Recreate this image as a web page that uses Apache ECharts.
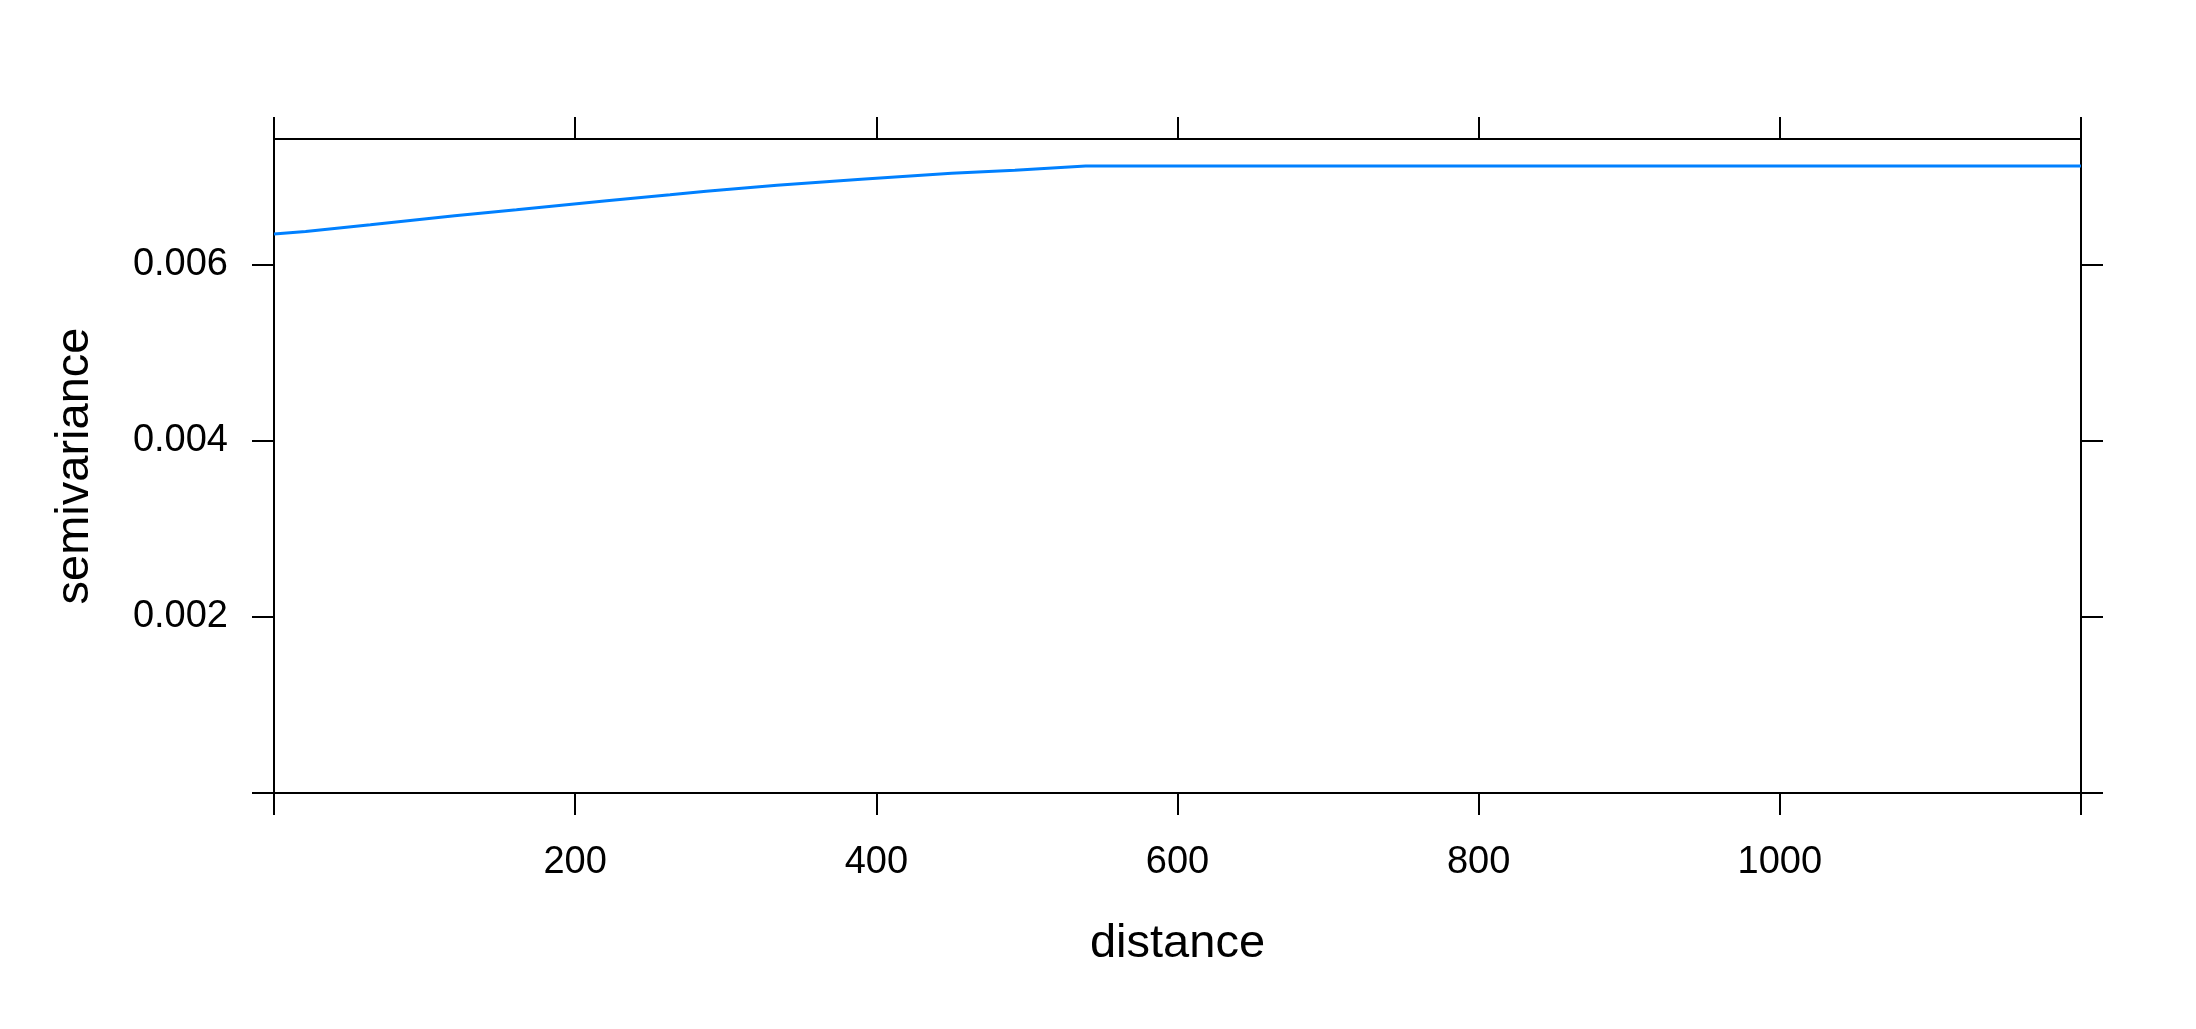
<!DOCTYPE html>
<html>
<head>
<meta charset="utf-8">
<title>semivariance</title>
<script src="https://cdn.jsdelivr.net/npm/echarts@6/dist/echarts.min.js"></script>
<style>
  html, body {
    margin: 0;
    padding: 0;
    background: #fff;
  }
  .variogramEcharts {
    width: 2196px;
    height: 1029px;
  }
</style>
</head>
<body>
<div class="variogramEcharts" id="variogramEcharts"></div>
<script>
// fitted model line
var distance = [0, 21, 64, 120, 161, 221, 263, 287, 334, 390, 450, 492, 539, 1200];
var semivariance = [0.006352, 0.00638, 0.006455, 0.006557, 0.006625, 0.006728, 0.006796,
  0.006836, 0.006904, 0.006974, 0.00704, 0.007075, 0.007122, 0.007122];

var xTicks = [0, 200, 400, 600, 800, 1000, 1200];
var xLabels = [200, 400, 600, 800, 1000];
var yTicks = [0, 0.002, 0.004, 0.006];
var yLabels = [0.002, 0.004, 0.006];

var xMin = 0, xMax = 1200;
var yMin = 0, yMax = 0.00743;

var myChart = echarts.init(document.getElementById("variogramEcharts"));

var lineData = distance.map(function (d, i) {
  return [d, semivariance[i]];
});

var axisLineStyle = { color: "#000", width: 2 };
var fontFamily = "'Liberation Sans', Arial, sans-serif";

let option = {
  backgroundColor: "#fff",
  animation: false,
  grid: {
    left: 274,
    right: 115,
    top: 139,
    bottom: 236
  },
  xAxis: [
    {
      type: "value",
      position: "bottom",
      min: xMin,
      max: xMax,
      name: "distance",
      nameLocation: "middle",
      nameGap: 128,
      nameTextStyle: { color: "#000", fontSize: 47, fontFamily: fontFamily },
      axisLine: { show: true, onZero: false, lineStyle: axisLineStyle },
      axisTick: { show: true, length: 22, customValues: xTicks, lineStyle: axisLineStyle },
      axisLabel: {
        customValues: xLabels,
        margin: 51,
        color: "#000",
        fontSize: 38,
        fontFamily: fontFamily,
        formatter: function (v) {
          return String(v);
        }
      },
      splitLine: { show: false }
    },
    {
      // top side of the box
      type: "value",
      position: "top",
      min: xMin,
      max: xMax,
      axisLine: { show: true, onZero: false, lineStyle: axisLineStyle },
      axisTick: { show: true, length: 22, customValues: xTicks, lineStyle: axisLineStyle },
      axisLabel: { show: false },
      splitLine: { show: false }
    }
  ],
  yAxis: [
    {
      type: "value",
      position: "left",
      min: yMin,
      max: yMax,
      name: "semivariance",
      nameLocation: "middle",
      nameGap: 175,
      nameTextStyle: { color: "#000", fontSize: 47, fontFamily: fontFamily },
      axisLine: { show: true, onZero: false, lineStyle: axisLineStyle },
      axisTick: { show: true, length: 22, customValues: yTicks, lineStyle: axisLineStyle },
      axisLabel: {
        customValues: yLabels,
        margin: 46,
        color: "#000",
        fontSize: 38,
        fontFamily: fontFamily,
        formatter: function (v) {
          return v.toFixed(3);
        }
      },
      splitLine: { show: false }
    },
    {
      // right side of the box
      type: "value",
      position: "right",
      min: yMin,
      max: yMax,
      axisLine: { show: true, onZero: false, lineStyle: axisLineStyle },
      axisTick: { show: true, length: 22, customValues: yTicks, lineStyle: axisLineStyle },
      axisLabel: { show: false },
      splitLine: { show: false }
    }
  ],
  series: [
    {
      name: "model",
      type: "line",
      xAxisIndex: 0,
      yAxisIndex: 0,
      showSymbol: false,
      smooth: false,
      lineStyle: { color: "#0080ff", width: 3 },
      data: lineData
    }
  ]
};

myChart.setOption(option);
</script>
</body>
</html>
